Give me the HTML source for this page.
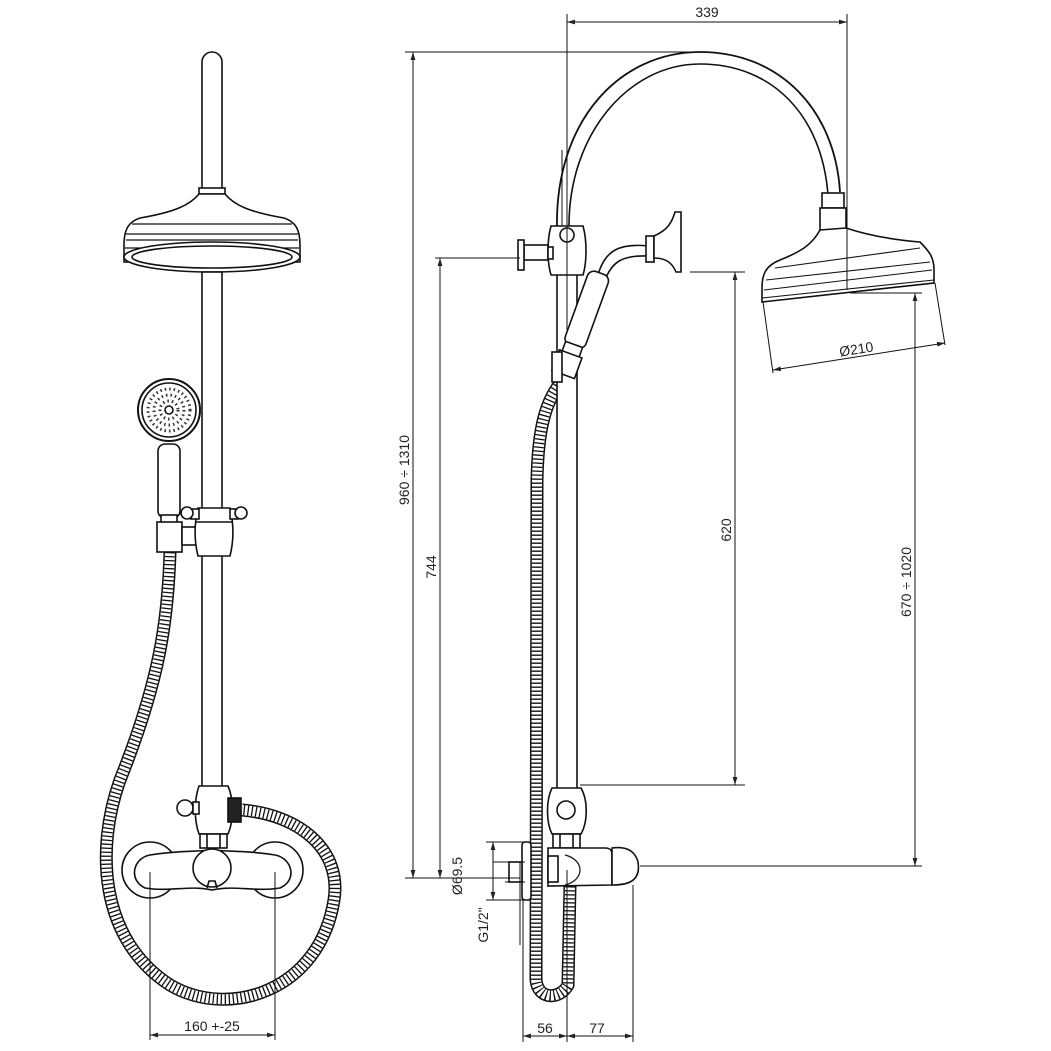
<!DOCTYPE html>
<html><head><meta charset="utf-8"><style>
html,body{margin:0;padding:0;background:#fff}
svg{display:block}
text{font-family:"Liberation Sans",sans-serif;font-size:14px;fill:#222}
</style></head><body>
<svg width="1051" height="1051" viewBox="0 0 1051 1051" xmlns="http://www.w3.org/2000/svg">
<defs>
<marker id="a" viewBox="0 0 10 10" refX="10" refY="5" markerWidth="8" markerHeight="8" orient="auto-start-reverse"><path d="M0,2 L10,5 L0,8 z" fill="#222"/></marker>
</defs>
<g fill="none" stroke="#111" stroke-width="1.6">
<!-- ===== LEFT VIEW ===== -->
<!-- hose -->
<g id="hoseL">
<path d="M170,552 C168,620 160,680 120,780 C95,850 100,940 170,985 C230,1020 320,990 334,900 C342,850 300,815 242,810" stroke="#111" stroke-width="13"/>
<path d="M170,552 C168,620 160,680 120,780 C95,850 100,940 170,985 C230,1020 320,990 334,900 C342,850 300,815 242,810" stroke="#fff" stroke-width="10"/>
<path d="M170,552 C168,620 160,680 120,780 C95,850 100,940 170,985 C230,1020 320,990 334,900 C342,850 300,815 242,810" stroke="#111" stroke-width="10" stroke-dasharray="1.3 2.7"/>
</g>
<!-- pole -->
<path d="M202,190 L202,62 A10,10 0 0 1 222,62 L222,190" fill="#fff"/>
<rect x="199" y="188" width="26" height="6" fill="#fff"/>
<path d="M199,194 C190,205 175,212 140,218 C128,222 124,230 124,245 L124,262 L300,262 L300,245 C300,230 296,222 284,218 C249,212 234,205 225,194 Z" fill="#fff"/>
<path d="M132,224 L292,224 M126,234 L298,234 M126,240 L298,240 M125,248 L299,248" stroke-width="1.2"/>
<ellipse cx="212" cy="257" rx="88" ry="15" fill="#fff"/>
<ellipse cx="212" cy="257" rx="80" ry="11"/>
<rect x="202" y="272" width="20" height="520" fill="#fff"/>
<!-- hand shower -->
<circle cx="169" cy="410" r="31" fill="#fff" stroke-width="2"/>
<circle cx="169" cy="410" r="27"/>
<circle cx="169" cy="410" r="4"/>
<g stroke-width="3" stroke-dasharray="1.5 3" stroke="#333">
<circle cx="169" cy="410" r="21"/><circle cx="169" cy="410" r="15"/><circle cx="169" cy="410" r="9"/>
</g>
<rect x="158" y="444" width="22" height="74" rx="7" fill="#fff"/>
<rect x="161" y="515" width="16" height="10" fill="#fff"/>
<rect x="157" y="522" width="25" height="30" fill="#fff"/>
<rect x="182" y="527" width="16" height="18" fill="#fff"/>
<!-- slider -->
<path d="M198,508 L230,508 C234,525 234,540 230,556 L198,556 C194,540 194,525 198,508 Z" fill="#fff"/>
<path d="M196,522 L232,522"/>
<rect x="191" y="509" width="8" height="10" fill="#fff"/><circle cx="187" cy="513" r="6" fill="#fff"/>
<rect x="230" y="509" width="8" height="10" fill="#fff"/><circle cx="241" cy="513" r="6" fill="#fff"/>
<!-- diverter -->
<path d="M199,786 L228,786 C234,800 234,820 228,834 L199,834 C194,820 194,800 199,786 Z" fill="#fff"/>
<circle cx="185" cy="808" r="8" fill="#fff"/><rect x="193" y="802" width="6" height="12" fill="#fff"/>
<rect x="228" y="798" width="13" height="24" fill="#222"/>
<rect x="200" y="834" width="27" height="14" fill="#fff"/>
<path d="M207,834 L207,848 M220,834 L220,848"/>
<!-- mixer -->
<circle cx="150" cy="870" r="28" fill="#fff"/>
<circle cx="275" cy="870" r="28" fill="#fff"/>
<path d="M150,855 C180,850 195,852 212,850 C230,852 245,850 275,855 C292,858 298,880 280,888 C255,892 235,885 212,890 C190,885 170,892 145,888 C128,880 133,858 150,855 Z" fill="#fff"/>
<circle cx="212" cy="868" r="19" fill="#fff"/>
<path d="M207,888 L209,881 L215,881 L217,888"/>
<!-- left dims -->
<path d="M150,872 L150,1040 M275,872 L275,1040" stroke-width="1"/>
<path d="M150,1035 L275,1035" stroke-width="1" marker-start="url(#a)" marker-end="url(#a)"/>

<!-- ===== RIGHT VIEW ===== -->
<!-- hose -->
<g>
<path d="M563,380 C545,400 538,430 537,480 L536,980 C538,1000 560,1000 568,985 L570,885" stroke="#111" stroke-width="13"/>
<path d="M563,380 C545,400 538,430 537,480 L536,980 C538,1000 560,1000 568,985 L570,885" stroke="#fff" stroke-width="10"/>
<path d="M563,380 C545,400 538,430 537,480 L536,980 C538,1000 560,1000 568,985 L570,885" stroke="#111" stroke-width="10" stroke-dasharray="1.3 2.7"/>
</g>
<!-- arm -->
<path d="M557,228 C555,120 620,52 700,52 C780,52 835,110 840,192" stroke-width="1.8"/>
<path d="M569,228 C568,135 628,64 700,64 C772,64 822,115 828,195" stroke-width="1.6"/>
<path d="M562,150 L562,228" stroke-width="1"/>
<!-- riser -->
<rect x="557" y="272" width="20" height="520" fill="#fff"/>
<!-- top slider -->
<path d="M551,226 L583,226 C587,240 587,262 583,275 L551,275 C547,262 547,240 551,226 Z" fill="#fff"/>
<circle cx="567" cy="235" r="7"/>
<rect x="524" y="245" width="24" height="15" fill="#fff"/><rect x="518" y="240" width="6" height="30" fill="#fff"/>
<rect x="548" y="247" width="5" height="12" fill="#fff"/>
<!-- wall bracket -->
<path d="M598,275 C605,250 620,243 648,246 M605,280 C612,262 622,255 648,256" />
<rect x="646" y="236" width="8" height="26" fill="#fff"/>
<path d="M654,236 C668,230 672,222 675,212 L681,212 L681,272 L676,272 C672,262 665,258 654,258 Z" fill="#fff"/>
<!-- handle tilted -->
<g transform="translate(583,320) rotate(20)">
<rect x="-11" y="-50" width="22" height="78" rx="7" fill="#fff"/>
<rect x="-9" y="26" width="18" height="12" fill="#fff"/>
<rect x="-12" y="36" width="24" height="22" fill="#fff"/>
</g>
<rect x="552" y="352" width="10" height="30" fill="#fff"/>
<!-- head -->
<rect x="822" y="193" width="22" height="15" fill="#fff"/>
<rect x="820" y="208" width="26" height="22" fill="#fff"/>
<path d="M820,230 C812,245 800,252 780,260 C765,266 762,275 762,288 L762,302 L934,283 L934,270 C934,258 930,252 920,242 C895,240 870,236 846,228 Z" fill="#fff"/>
<path d="M764,290 L932,270 M766,280 L930,262 M775,268 L920,248 M762,302 L934,283 M762,298 L934,280" stroke-width="1.1"/>
<!-- bottom diverter -->
<path d="M552,788 L581,788 C588,800 588,822 581,834 L552,834 C546,822 546,800 552,788 Z" fill="#fff"/>
<circle cx="566" cy="810" r="9"/>
<rect x="553" y="834" width="27" height="14" fill="#fff"/>
<path d="M560,834 L560,848 M573,834 L573,848"/>
<!-- mixer side -->
<rect x="522" y="842" width="9" height="58" rx="3" fill="#fff"/>
<rect x="509" y="862" width="13" height="20" fill="#fff"/>
<path d="M548,848 L605,848 C612,848 612,852 612,856 L612,885 L548,886 Z" fill="#fff"/>
<path d="M612,848 C635,845 640,860 638,872 C636,880 630,885 612,885 Z" fill="#fff"/>
<path d="M565,855 C585,860 585,880 565,885" stroke-width="1.2"/>
<rect x="548" y="856" width="10" height="26" fill="#fff"/>

<!-- right dims -->
<g stroke-width="1">
<path d="M567,14 L567,330 M847,14 L847,290"/>
<path d="M567,22 L847,22" marker-start="url(#a)" marker-end="url(#a)"/>
<path d="M405,52 L700,52 M405,878 L520,878"/>
<path d="M413,52 L413,878" marker-start="url(#a)" marker-end="url(#a)"/>
<path d="M435,258 L520,258"/>
<path d="M440,258 L440,878" marker-start="url(#a)" marker-end="url(#a)"/>
<path d="M690,272 L745,272 M580,785 L745,785"/>
<path d="M735,272 L735,785" marker-start="url(#a)" marker-end="url(#a)"/>
<path d="M850,293 L922,293 M640,866 L922,866"/>
<path d="M915,293 L915,866" marker-start="url(#a)" marker-end="url(#a)"/>
<path d="M763,302 L773,373 M935,283 L945,345"/>
<path d="M773,370 L945,343" marker-start="url(#a)" marker-end="url(#a)"/>
<path d="M486,842 L525,842 M486,900 L525,900 M493,842 L493,900"/>
<path d="M505,862 L525,862 M505,882 L525,882 M493,862 L510,862"/>
<path d="M493,842 L493,900" marker-start="url(#a)" marker-end="url(#a)"/>
<path d="M520,862 L520,945" stroke-width="1"/>
<path d="M523,900 L523,1042 M567,870 L567,1042 M633,885 L633,1042"/>
<path d="M523,1036 L567,1036" marker-start="url(#a)" marker-end="url(#a)"/>
<path d="M567,1036 L633,1036" marker-start="url(#a)" marker-end="url(#a)"/>
</g>
</g>
<!-- texts -->
<text x="212" y="1031" text-anchor="middle">160 +-25</text>
<text x="707" y="17" text-anchor="middle" font-size="13">339</text>
<text transform="translate(409,470) rotate(-90)" text-anchor="middle" font-size="13">960 ÷ 1310</text>
<text transform="translate(436,567) rotate(-90)" text-anchor="middle" font-size="13">744</text>
<text transform="translate(731,530) rotate(-90)" text-anchor="middle" font-size="13">620</text>
<text transform="translate(911,582) rotate(-90)" text-anchor="middle" font-size="13">670 ÷ 1020</text>
<text transform="translate(857,354) rotate(-9)" text-anchor="middle" font-size="13">Ø210</text>
<text transform="translate(462,876) rotate(-90)" text-anchor="middle" font-size="13">Ø69.5</text>
<text transform="translate(488,925) rotate(-90)" text-anchor="middle" font-size="13">G1/2"</text>
<text x="545" y="1033" text-anchor="middle">56</text>
<text x="597" y="1033" text-anchor="middle">77</text>
</svg>
</body></html>
